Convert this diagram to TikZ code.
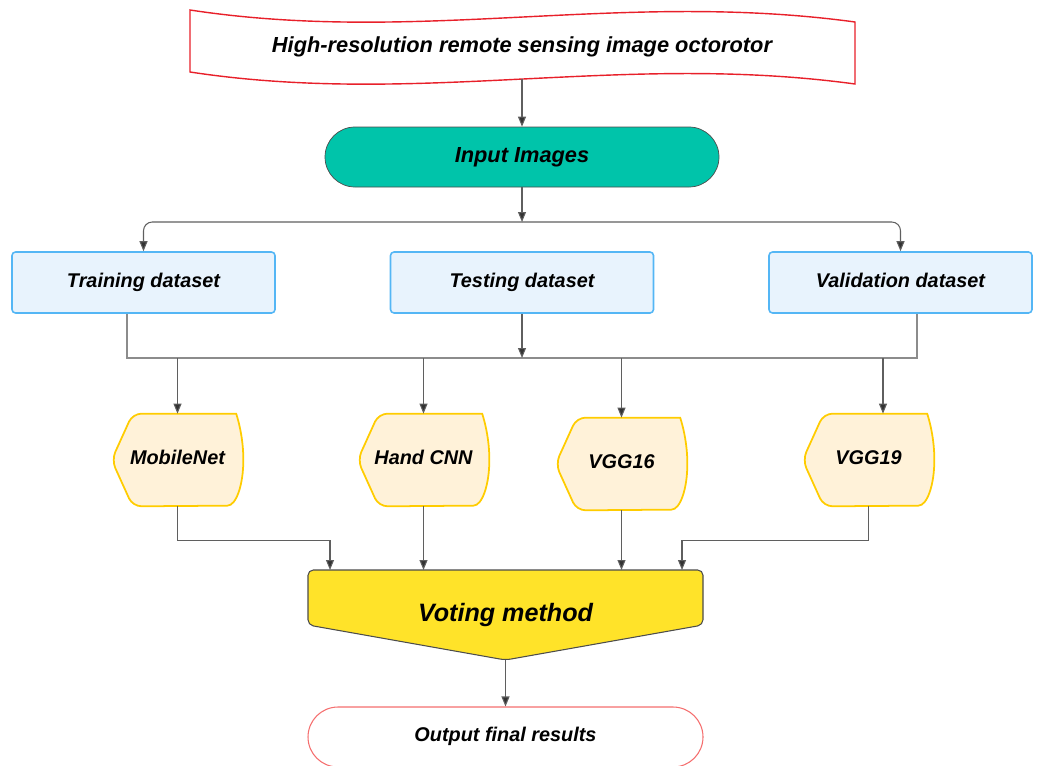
\documentclass[tikz,border=0pt]{standalone}
\usepackage{fontspec}
\setmainfont{Liberation Sans}
\usepackage{xcolor}
\usepackage{tikz}
\usetikzlibrary{positioning,calc,arrows.meta,backgrounds}
\definecolor{lineGray}{RGB}{95,95,95}
\definecolor{busGray}{RGB}{140,140,140}
\definecolor{tipGray}{RGB}{51,51,51}
\definecolor{inputTeal}{RGB}{0,196,170}
\definecolor{dataFill}{RGB}{232,243,253}
\definecolor{dataBlue}{RGB}{84,182,245}
\definecolor{modelFill}{RGB}{255,242,217}
\definecolor{modelGold}{RGB}{255,204,0}
\definecolor{voteYellow}{RGB}{255,227,41}
\definecolor{tapeRed}{RGB}{232,32,42}
\definecolor{outRed}{RGB}{245,110,110}
\tikzset{
    conn/.style={draw=lineGray, line width=0.6pt, -{Triangle[length=2mm, width=1.6mm, fill=tipGray]}},
    plainline/.style={draw=busGray, line width=0.6pt},
    bigtxt/.style={font=\bfseries\itshape\fontsize{12.4}{14}\selectfont},
    smalltxt/.style={font=\bfseries\itshape\fontsize{11.3}{13}\selectfont, text height=0.75em, text depth=0.22em}
}

\begin{document}
\begin{tikzpicture}[
        inputbox/.style={bigtxt, draw=black!70, fill=inputTeal, rounded corners=0.6cm, minimum width=7.88cm, minimum height=1.2cm},
        databox/.style={smalltxt, draw=dataBlue, line width=0.9pt, fill=dataFill, rounded corners=2pt, minimum width=5.26cm, minimum height=1.22cm},
        modelbox/.style={smalltxt, minimum width=2.62cm, minimum height=1.84cm, inner sep=0pt},
        modelline/.style={draw=modelGold, line width=1pt, fill=modelFill},
        outbox/.style={smalltxt, draw=outRed, line width=0.6pt, fill=white, rounded corners=0.6cm, minimum width=7.9cm, minimum height=1.2cm}
    ]
    \useasboundingbox (0,0) rectangle (20.76,-15.3);
    % --- Nguon anh ---
    \node[bigtxt] (tape) at (10.44,-0.94) {High-resolution remote sensing image octorotor};
    \coordinate (tapeb) at (10.44,-1.58);
    \node[inputbox] (input) at (10.44,-3.14) {Input Images};
    \draw[conn] (tapeb) -- (input);
    % --- Chia du lieu ---
    \coordinate (busA) at (10.44,-4.44);
    \node[databox] (train) at (2.87,-5.65) {Training dataset};
    \node[databox] (test) at (10.44,-5.65) {Testing dataset};
    \node[databox] (valid) at (18.01,-5.65) {Validation dataset};
    \draw[conn] (input) -- (busA);
    \draw[conn, rounded corners=5pt] (busA) -| (train);
    \draw[conn, rounded corners=5pt] (busA) -| (valid);
    \coordinate (busB) at (10.44,-7.16);
    \draw[plainline] ([xshift=-0.33cm]train.south) |- (busB) -| ([xshift=0.33cm]valid.south);
    \draw[conn] (test) -- (busB);
    % --- Cac mo hinh ---
    \node[modelbox] (mobile) at (3.55,-9.2) {MobileNet};
    \node[modelbox] (hand) at (8.47,-9.2) {Hand CNN};
    \node[modelbox] (vgg16) at (12.43,-9.28) {VGG16};
    \node[modelbox] (vgg19) at (17.37,-9.2) {VGG19};
    \draw[conn] (mobile.north |- busB) -- (mobile);
    \draw[conn] (hand.north |- busB) -- (hand);
    \draw[conn] (vgg16.north |- busB) -- (vgg16);
    \draw[conn] ([xshift=0.29cm]vgg19.north |- busB) -- ([xshift=0.29cm]vgg19.north);
    % --- Bo phieu ---
    \node[font=\bfseries\itshape\fontsize{14.3}{16}\selectfont] (vote) at (10.11,-12.3) {Voting method};
    \coordinate (vinA) at (6.6,-11.4);
    \coordinate (vinB) at (8.47,-11.4);
    \coordinate (vinC) at (12.43,-11.4);
    \coordinate (vinD) at (13.64,-11.4);
    \coordinate (votetip) at (10.11,-13.2);
    \draw[conn] (mobile.south) -- ++(0,-0.68) -| (vinA);
    \draw[conn] (hand) -- (vinB);
    \draw[conn] (vgg16) -- (vinC);
    \draw[conn] (vgg19.south) -- ++(0,-0.68) -| (vinD);
    \node[outbox] (output) at (10.11,-14.74) {Output final results};
    \draw[conn] (votetip) -- (output);
    % --- Cac hinh nen ---
    \begin{scope}[on background layer]
        \draw[draw=tapeRed, line width=0.8pt, fill=white] (3.8,-0.2) .. controls (8.4,-0.9) and (12.4,0.2) .. (17.1,-0.44) -- (17.1,-1.68) .. controls (12.4,-1.04) and (8.4,-2.14) .. (3.8,-1.44) -- cycle;
        \foreach \m in {mobile,hand,vgg16,vgg19}
            \draw[modelline] ([xshift=-0.32cm]\m.north east) arc[start angle=90, end angle=-90, x radius=0.32cm, y radius=0.92cm] [rounded corners=5pt] -- ([xshift=0.42cm]\m.south west) -- (\m.west) -- ([xshift=0.42cm]\m.north west) -- cycle;
        \draw[draw=black!70, line width=0.6pt, fill=voteYellow, rounded corners=3pt] ($(vote)+(-3.95,0.9)$) -- ($(vote)+(3.95,0.9)$) -- ($(vote)+(3.95,-0.2)$) -- (votetip) -- ($(vote)+(-3.95,-0.2)$) -- cycle;
    \end{scope}
\end{tikzpicture}
\end{document}
